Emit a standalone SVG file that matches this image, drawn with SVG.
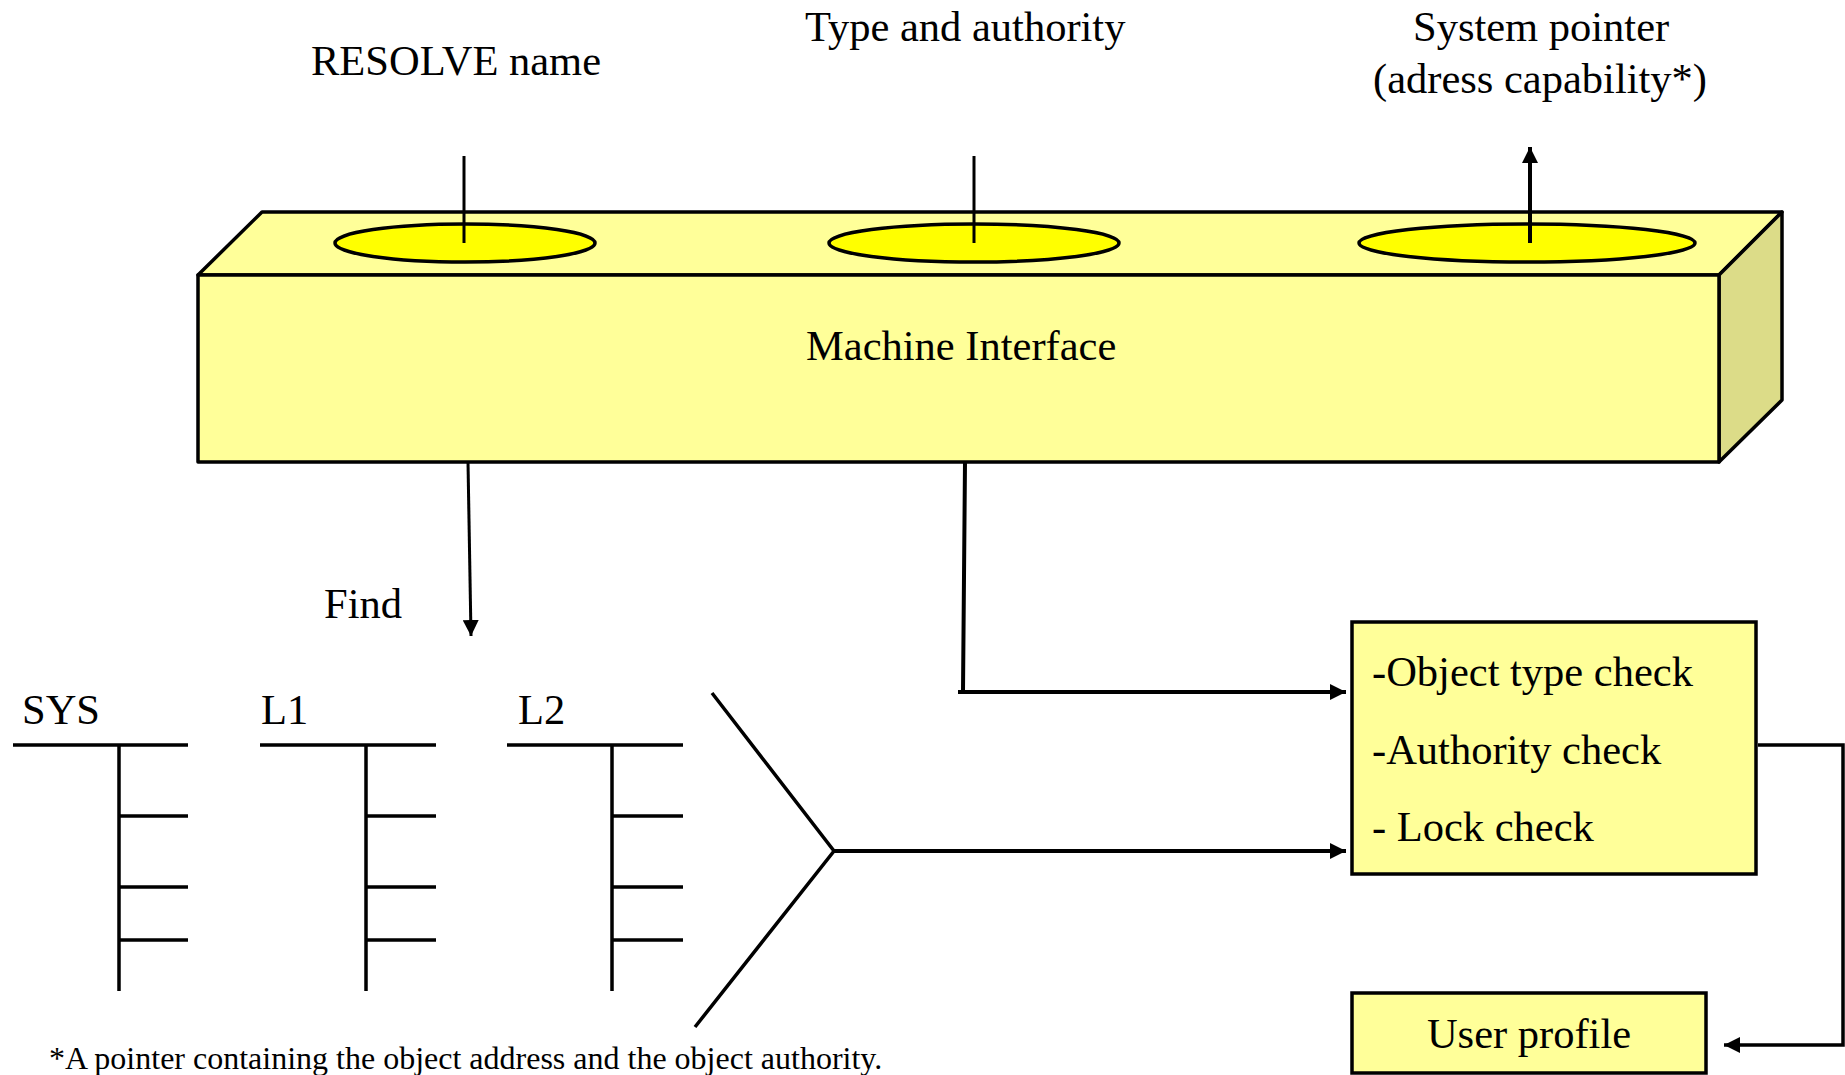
<svg xmlns="http://www.w3.org/2000/svg" width="1845" height="1075" viewBox="0 0 1845 1075">
<defs>
<style>
.t{font-family:"Liberation Serif","Times New Roman",serif;font-size:42.5px;fill:#000}
.fn{font-family:"Liberation Serif","Times New Roman",serif;font-size:32px;fill:#000}
.face{fill:#FFFF99;stroke:#000;stroke-width:3.5;stroke-linejoin:round}
.side{fill:#DCDC88;stroke:#000;stroke-width:3.5;stroke-linejoin:round}
.hole{fill:#FFFF00;stroke:#000;stroke-width:3.5}
.ln{fill:none;stroke:#000;stroke-width:3.5}
.ar{fill:none;stroke:#000;stroke-width:4}
.thin{fill:none;stroke:#000;stroke-width:3}
.box{fill:#FFFF99;stroke:#000;stroke-width:3.5}
</style>
<marker id="ah" viewBox="0 0 16 16" refX="16" refY="8" markerWidth="16" markerHeight="16" markerUnits="userSpaceOnUse" orient="auto">
<path d="M0,0 L16,8 L0,16 Z" fill="#000"/>
</marker>
</defs>

<g id="machine-interface">
<polygon class="face" points="198,275 262,212 1782,212 1719,275"/>
<polygon class="side" points="1719,275 1782,212 1782,400 1719,462"/>
<rect class="face" x="198" y="275" width="1521" height="187"/>
<ellipse class="hole" cx="465" cy="243" rx="130" ry="19"/>
<ellipse class="hole" cx="974" cy="243" rx="145" ry="19"/>
<ellipse class="hole" cx="1527" cy="243" rx="168" ry="19"/>
<text class="t" x="806" y="360">Machine Interface</text>
</g>

<g id="label-resolve"><text class="t" x="311" y="75">RESOLVE name</text></g>
<g id="label-type"><text class="t" x="805" y="41">Type and authority</text></g>
<g id="label-pointer">
<text class="t" x="1413" y="41">System pointer</text>
<text class="t" x="1373" y="93">(adress capability*)</text>
</g>

<g id="label-find"><text class="t" x="324" y="618">Find</text></g>

<g id="lib-sys">
<text class="t" x="22" y="724">SYS</text>
<path class="ln" d="M13,745 H188 M119,745 V991 M119,816 H188 M119,887 H188 M119,940 H188"/>
</g>
<g id="lib-l1">
<text class="t" x="261" y="724">L1</text>
<path class="ln" d="M260,745 H436 M366,745 V991 M366,816 H436 M366,887 H436 M366,940 H436"/>
</g>
<g id="lib-l2">
<text class="t" x="518" y="724">L2</text>
<path class="ln" d="M507,745 H683 M612,745 V991 M612,816 H683 M612,887 H683 M612,940 H683"/>
</g>
<g id="merge">
<path class="ln" d="M712,693 L834,851 L695,1027"/>
</g>

<g id="checks">
<rect class="box" x="1352" y="622" width="404" height="252"/>
<text class="t" x="1372" y="686">-Object type check</text>
<text class="t" x="1372" y="764">-Authority check</text>
<text class="t" x="1372" y="841">- Lock check</text>
</g>

<g id="user-profile">
<rect class="box" x="1352" y="993" width="354" height="80"/>
<text class="t" x="1529" y="1048" text-anchor="middle">User profile</text>
</g>

<g id="footnote"><text class="fn" x="49" y="1069">*A pointer containing the object address and the object authority.</text></g>

<g id="connectors">
<line class="thin" x1="464" y1="156" x2="464" y2="243"/>
<line class="thin" x1="974" y1="156" x2="974" y2="243"/>
<line class="ar" x1="1530" y1="243" x2="1530" y2="147" marker-end="url(#ah)"/>
<line class="thin" x1="468" y1="462" x2="471" y2="636" marker-end="url(#ah)"/>
<path class="ar" d="M965,462 L963,692 M958,692 H1346" marker-end="url(#ah)"/>
<path class="ar" d="M834,851 H1346" marker-end="url(#ah)"/>
<path class="ln" d="M1758,745 H1843 V1045 H1724" marker-end="url(#ah)"/>
</g>
</svg>
